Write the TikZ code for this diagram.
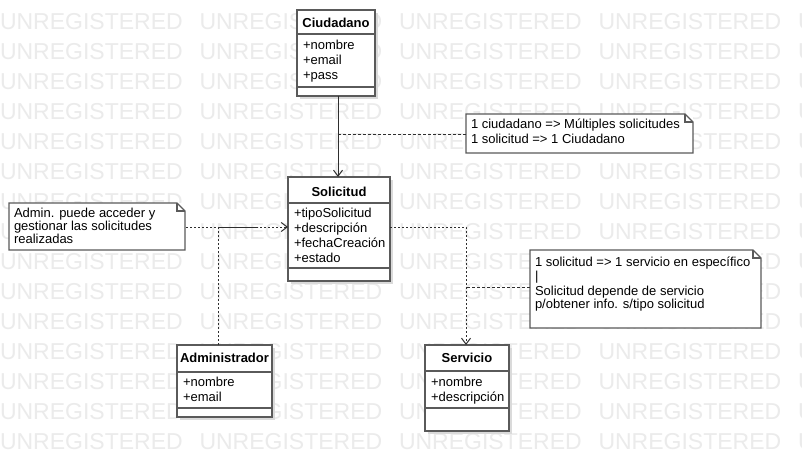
\documentclass[tikz,border=0pt]{standalone}
\usepackage{fontspec}
\setmainfont{Liberation Sans}
\usetikzlibrary{arrows.meta,shadows}
\definecolor{boxline}{HTML}{5A5A5A}
\definecolor{wmc}{HTML}{EBEBEB}
\definecolor{shadowc}{HTML}{DADADA}
\definecolor{linec}{HTML}{2E2E2E}
\tikzset{
  every node/.style={inner sep=0pt, outer sep=0pt},
  wmtext/.style={font=\fontsize{23}{25}\selectfont, text=wmc, anchor=base west},
  classbox/.style={draw=boxline, line width=1.3pt, fill=white, anchor=north west,
    drop shadow={shadow xshift=3pt, shadow yshift=-3pt, fill=shadowc, opacity=1}},
  sepline/.style={draw=boxline, line width=1.3pt},
  ctitle/.style={font=\fontsize{13}{15}\selectfont\bfseries, anchor=base},
  attr/.style={font=\fontsize{13}{15}\selectfont, anchor=base west},
  notebox/.style={fill=white, anchor=north west},
  noteline/.style={draw=boxline, line width=1.1pt},
  assoc/.style={draw=linec, line width=1pt, -{Straight Barb[length=6pt,width=9pt]}},
  dep/.style={draw=linec, line width=1pt, dash pattern=on 2pt off 2pt, -{Straight Barb[length=6pt,width=9pt]}},
  dotlink/.style={draw=linec, line width=1pt, dash pattern=on 2pt off 2pt, dash phase=3pt},
  notelink/.style={draw=linec, line width=1pt, dash pattern=on 3pt off 2pt},
}
\newcommand\notefold[1]{%
  \draw[noteline] (#1.north west) -- ([xshift=-8pt]#1.north east) -- ([yshift=-8pt]#1.north east) -- (#1.south east) -- (#1.south west) -- cycle;
  \draw[noteline] ([xshift=-8pt]#1.north east) -- ([xshift=-8pt,yshift=-8pt]#1.north east) -- ([yshift=-8pt]#1.north east);}
\begin{document}
\begin{tikzpicture}[x=1pt,y=-1pt]
\useasboundingbox (0,0) rectangle (802,473);
\fill[white] (0,0) rectangle (802,473);
% watermark
\foreach \r in {0,...,14}{
  \foreach \c in {0,...,4}{
    \node[wmtext] (wm\r-\c) at ({199.5*\c},{29.7+30*\r}) {UNREGISTERED};
  }
}
% connectors
\coordinate (cx) at (338,0);
\coordinate (c1) at (338,135);
\coordinate (ab) at (218,227);
\coordinate (c2) at (258,227);
\coordinate (sb) at (466,227);
\coordinate (c3) at (466,287);

% classes
\node[classbox, minimum width=78pt, minimum height=86pt] (ciud) at (297,10) {};
\draw[sepline] (ciud.west |- 0,34) -- (ciud.east |- 0,34);
\draw[sepline] (ciud.west |- 0,87) -- (ciud.east |- 0,87);
\node[ctitle] (ciudT) at (336,28) {Ciudadano};
\node[attr] (ciudA1) at (303,50) {+nombre};
\node[attr] (ciudA2) at (303,65) {+email};
\node[attr] (ciudA3) at (303,80) {+pass};

\node[classbox, minimum width=102pt, minimum height=104pt] (sol) at (288,177) {};
\draw[sepline] (sol.west |- 0,203) -- (sol.east |- 0,203);
\draw[sepline] (sol.west |- 0,268) -- (sol.east |- 0,268);
\node[ctitle] (solT) at (339,196.5) {Solicitud};
\node[attr] (solA1) at (294,217.5) {+tipoSolicitud};
\node[attr] (solA2) at (294,232.5) {+descripción};
\node[attr] (solA3) at (294,247.5) {+fechaCreación};
\node[attr] (solA4) at (294,262.5) {+estado};

\node[classbox, minimum width=95pt, minimum height=72pt] (admin) at (177,345) {};
\draw[sepline] (admin.west |- 0,372) -- (admin.east |- 0,372);
\draw[sepline] (admin.west |- 0,408) -- (admin.east |- 0,408);
\node[ctitle] (adminT) at (224.5,362.5) {Administrador};
\node[attr] (adminA1) at (183,386.5) {+nombre};
\node[attr] (adminA2) at (183,401.5) {+email};

\node[classbox, minimum width=84pt, minimum height=86pt] (serv) at (425,345) {};
\draw[sepline] (serv.west |- 0,371) -- (serv.east |- 0,371);
\draw[sepline] (serv.west |- 0,408) -- (serv.east |- 0,408);
\node[ctitle] (servT) at (467,362.5) {Servicio};
\node[attr] (servA1) at (431,386.5) {+nombre};
\node[attr] (servA2) at (431,401.5) {+descripción};

% notes
\node[notebox, minimum width=227pt, minimum height=39pt] (n1) at (466,114) {};
\notefold{n1}
\node[attr] (n1L1) at (471,129) {1 ciudadano => Múltiples solicitudes};
\node[attr] (n1L2) at (471,144) {1 solicitud => 1 Ciudadano};

\node[notebox, minimum width=176pt, minimum height=47pt] (na) at (9,203) {};
\notefold{na}
\node[attr] (naL1) at (14,217) {Admin. puede acceder y};
\node[attr] (naL2) at (14,230) {gestionar las solicitudes};
\node[attr] (naL3) at (14,243) {realizadas};

\node[notebox, minimum width=231pt, minimum height=78pt] (n2) at (530,250) {};
\notefold{n2}
\node[attr] (n2L1) at (535,266) {1 solicitud => 1 servicio en específico};
\node[attr] (n2L2) at (535,280.5) {|};
\node[attr] (n2L3) at (535,295) {Solicitud depende de servicio};
\node[attr] (n2L4) at (535,308) {p/obtener info. s/tipo solicitud};

% connector drawing
\draw[assoc] (ciud.south -| cx) -- (sol.north -| cx);
\draw[notelink] (n1.west |- c1) -- (c1);
\draw[dep] (admin.north -| ab) -- (ab) -- (sol.west |- ab);
\draw[dotlink] (na.east |- c2) -- (c2);
\draw[dep] (sol.east |- sb) -- (sb) -- (serv.north -| sb);
\draw[notelink] (n2.west |- c3) -- (c3);
\end{tikzpicture}
\end{document}
